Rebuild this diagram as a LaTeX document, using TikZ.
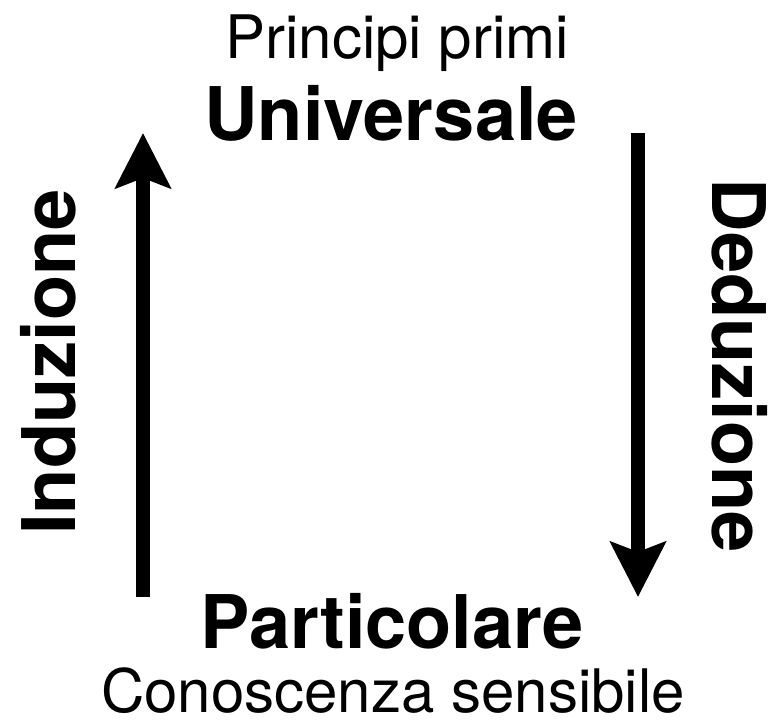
\documentclass[tikz,border=0pt]{standalone}
\usepackage{fontspec}
\setmainfont{TeX Gyre Heros}
\usetikzlibrary{arrows.meta}
\begin{document}
\begin{tikzpicture}[x=1pt, y=-1pt,
  lbl/.style={anchor=base, inner sep=0pt, font=\fontsize{60}{66}\selectfont},
  big/.style={anchor=base, inner sep=0pt, font=\fontsize{74}{80}\selectfont\bfseries},
  flow/.style={line width=14pt, -{Stealth[length=55pt, width=55pt, inset=10pt]}}]
\useasboundingbox (0,0) rectangle (771,723);
\node[lbl] (prin) at (397,58) {Principi primi};
\node[big] (univ) at (391,140) {Universale};
\node[big] (part) at (392,648) {Particolare};
\node[lbl] (cono) at (393,712) {Conoscenza sensibile};
\node[big, rotate=90] (indu) at (75,362) {Induzione};
\node[big, rotate=-90] (dedu) at (712,366) {Deduzione};
\coordinate (ia) at (143,597);
\coordinate (ib) at (143,133);
\coordinate (da) at (638,133);
\coordinate (db) at (638,597);
\draw[flow] (ia) -- (ib);
\draw[flow] (da) -- (db);
\end{tikzpicture}
\end{document}
